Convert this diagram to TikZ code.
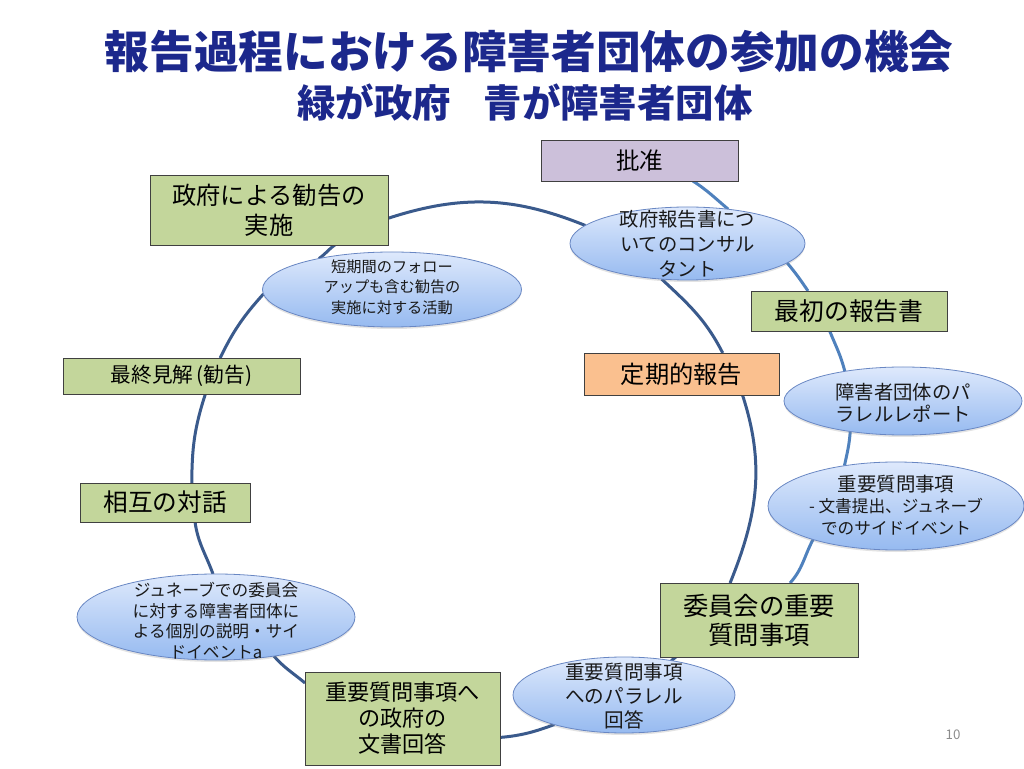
\documentclass[tikz,border=0pt]{standalone}
\usepackage{fontspec}
\setmainfont{Noto Sans CJK JP}
\usetikzlibrary{shapes.geometric,backgrounds,shadows}
\definecolor{boxgreen}{RGB}{195,214,155}
\definecolor{boxlav}{RGB}{204,192,218}
\definecolor{boxorange}{RGB}{250,192,143}
\definecolor{elltop}{RGB}{222,233,252}
\definecolor{ellbot}{RGB}{150,186,240}
\definecolor{ellborder}{RGB}{105,135,195}
\definecolor{innerline}{RGB}{58,90,140}
\definecolor{outerline}{RGB}{79,129,189}
\definecolor{titleblue}{RGB}{28,40,140}
\newcommand{\fs}[2]{\fontsize{#1}{#2}\selectfont}
\tikzset{
  gbox/.style={rectangle, draw=black!75, line width=0.6pt, fill=boxgreen, inner sep=0pt, outer sep=0pt, align=center, text=black},
  bell/.style={ellipse, draw=ellborder, line width=0.6pt, top color=elltop, bottom color=ellbot, inner sep=0pt, outer sep=0pt,
    drop shadow={shadow xshift=0pt, shadow yshift=-1.5pt, opacity=0.22}},
  etext/.style={align=center, inner sep=0pt, text=black!90},
  innerarc/.style={draw=innerline, line width=2.25pt},
  outerarc/.style={draw=outerline, line width=2.25pt},
}
\begin{document}
\begin{tikzpicture}[x=0.75pt,y=0.75pt]
\useasboundingbox (0,0) rectangle (1024,768);
% title
\node[text=titleblue, font=\bfseries\fs{33.5pt}{38pt}] (title1) at (529,716) {報告過程における障害者団体の参加の機会};
\node[text=titleblue, font=\bfseries\fs{28.8pt}{32pt}] (title2) at (525,665) {緑が政府\hspace{0.85em}青が障害者団体};
% boxes
\node[gbox, fill=boxlav, minimum width=147.75pt, minimum height=30.75pt, font=\fs{17.6pt}{21pt}] (p) at (639.5,607.5) {批准};
\node[gbox, minimum width=178.5pt, minimum height=52.5pt, font=\fs{18.2pt}{22.5pt}] (g1) at (269,558) {政府による勧告の\\実施};
\node[gbox, minimum width=147pt, minimum height=30pt, font=\fs{18.6pt}{22pt}] (i) at (849,457) {最初の報告書};
\node[gbox, minimum width=177.75pt, minimum height=27pt, font=\fs{15.5pt}{18pt}] (f) at (181.5,392) {最終見解\,(勧告)};
\node[gbox, fill=boxorange, minimum width=146.25pt, minimum height=31.5pt, font=\fs{18.2pt}{22pt}] (r) at (681.5,394) {定期的報告};
\node[gbox, minimum width=127.5pt, minimum height=29.25pt, font=\fs{18.5pt}{22pt}] (d) at (165,265.5) {相互の対話};
\node[gbox, minimum width=148.5pt, minimum height=55.5pt, font=\fs{19pt}{21.75pt}] (c) at (759,148) {委員会の重要\\質問事項};
\node[gbox, minimum width=146.25pt, minimum height=69.75pt, font=\fs{16.6pt}{19.5pt}] (b) at (402.5,49.5) {重要質問事項へ\\の政府の\\文書回答};
% ellipses
\node[bell, minimum width=176.25pt, minimum height=54.75pt] (e1) at (687.5,524.5) {};
\node[etext, font=\fs{14.5pt}{18.75pt}] (e1t) at (687.5,524.5) {政府報告書につ\\いてのコンサル\\タント};
\node[bell, minimum width=194.25pt, minimum height=56.25pt] (e2) at (392,478.5) {};
\node[etext, font=\fs{11.4pt}{15.5pt}] (e2t) at (392,481) {短期間のフォロー\\アップも含む勧告の\\実施に対する活動};
\node[bell, minimum width=178.5pt, minimum height=51pt] (e3) at (903,367) {};
\node[etext, font=\fs{14.5pt}{16.5pt}] (e3t) at (903,365) {障害者団体のパ\\ラレルレポート};
\node[bell, minimum width=192pt, minimum height=66pt] (e6) at (896,262) {};
\node[etext, font=\fs{12.5pt}{16pt}] (e6t) at (896,263) {{\fs{14.6pt}{17pt}重要質問事項}\\- 文書提出、ジュネーブ\\でのサイドイベント};
\node[bell, minimum width=208.5pt, minimum height=64.5pt] (e4) at (216,151) {};
\node[etext, font=\fs{12.5pt}{15.4pt}] (e4t) at (216,147.5) {ジュネーブでの委員会\\に対する障害者団体に\\よる個別の説明・サイ\\ドイベントa};
\node[bell, minimum width=166.5pt, minimum height=57pt] (e5) at (624,73) {};
\node[etext, font=\fs{14.7pt}{18pt}] (e5t) at (624,72) {重要質問事項\\へのパラレル\\回答};
% page number
\node[text=black!45, font=\fs{10pt}{12pt}] (pg) at (953,33) {10};
% connectors
\begin{pgfonlayer}{background}
\draw[innerarc] (g1.-4) to[out=18,in=158] (e1.170);
\draw[innerarc] (e1.234) to[out=-43,in=117] (r.27);
\draw[innerarc] (r.-19) to[out=-72,in=68] (c.128);
\draw[innerarc] (c.204) to[out=-131,in=49] (e5.36);
\draw[innerarc] (e5.203) to[out=200,in=5] (b.-11);
\draw[innerarc] (b.160) to[out=140,in=-49] (e4.-34);
\draw[innerarc] (e4.94) to[out=110,in=-82] (d.-33);
\draw[innerarc] (d.36) to[out=90,in=-108] (f.-37);
\draw[innerarc] (f.25) to[out=64,in=-132] (e2.182);
\draw[innerarc] (e2.157) to[out=35,in=-145] (g1.-28);
\draw[outerarc] (p.-21) to[out=-33,in=140] (e1.40);
\draw[outerarc] (e1.-11) to[out=-50,in=124] (i.154);
\draw[outerarc] (i.226) to[out=-68,in=104] (e3.153);
\draw[outerarc] (e3.210) to[out=-94,in=78] (e6.142);
\draw[outerarc] (e6.202) to[out=-118,in=48] (c.50);
\end{pgfonlayer}
\end{tikzpicture}
\end{document}
